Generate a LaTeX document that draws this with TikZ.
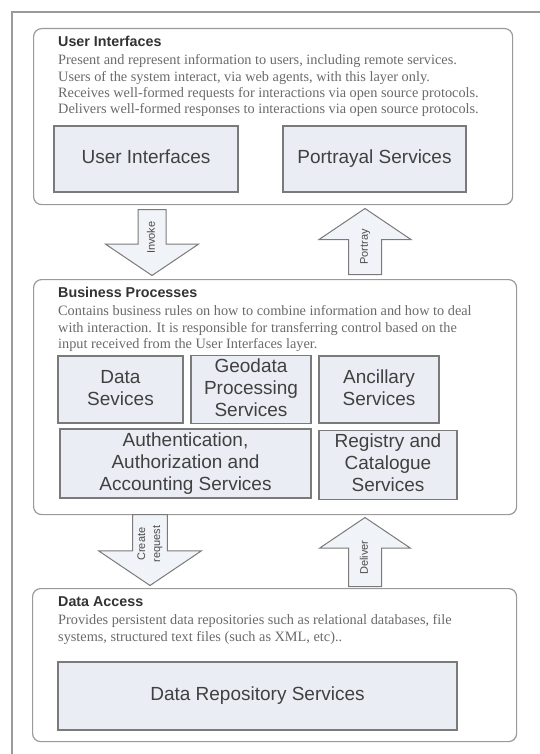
\documentclass[tikz,border=0pt]{standalone}
\usepackage{fontspec}
\setmainfont{Liberation Serif}
\setsansfont{Liberation Sans}
\usetikzlibrary{shapes.arrows}

\definecolor{boxfill}{HTML}{EAEEF4}
\definecolor{boxline}{HTML}{7A7A7A}
\definecolor{layerline}{HTML}{9A9A9A}
\definecolor{desctext}{HTML}{6A6A6A}

\begin{document}
\begin{tikzpicture}[x=1pt,y=-1pt,
  layer/.style={draw=layerline,line width=1.2pt,rounded corners=8pt,fill=white,anchor=north west},
  service/.style={draw=boxline,line width=1.2pt,fill=boxfill,text=black!75,align=center,text depth=4pt,font=\sffamily\fontsize{19}{22}\selectfont},
  layertitle/.style={anchor=base west,inner sep=0pt,text=black!80,font=\sffamily\bfseries\fontsize{14.3}{16}\selectfont},
  layertext/.style={anchor=north west,inner sep=0pt,align=left,text=desctext,font=\fontsize{14.3}{16.3}\selectfont},
  blockarrow/.style={single arrow,draw=boxline,line width=1pt,fill=boxfill!70,single arrow tip angle=112,
    rotate=90,anchor=tail,inner xsep=2pt,text=black!70,font=\sffamily\fontsize{11}{15}\selectfont},
  downarrow/.style={blockarrow,shape border rotate=180}]
  \useasboundingbox (0,0) rectangle (540,754);
  % outer frame
  \draw[layerline,line width=1.3pt] (12,760) -- (12,12) -- (550,12);

  % user interfaces layer
  \node[layer,minimum width=479pt,minimum height=176pt] (uilayer) at (33,28) {};
  \node[layertitle] (uititle) at (58,47) {User Interfaces};
  \node[layertext] (uitext) at (58,54.5) {Present and represent information to users, including remote services.\\
    Users of the system interact, via web agents, with this layer only.\\
    Receives well-formed requests for interactions via open source protocols.\\
    Delivers well-formed responses to interactions via open source protocols.};
  \node[service,minimum width=184pt,minimum height=66pt] (userif) at (146,159) {User Interfaces};
  \node[service,minimum width=183pt,minimum height=66pt] (portrayal) at (374.5,159) {Portrayal Services};

  % business processes layer
  \node[layer,minimum width=483pt,minimum height=235pt] (bplayer) at (33,279) {};
  \node[layertitle] (bptitle) at (58,297) {Business Processes};
  \node[layertext] (bptext) at (58,305.5) {Contains business rules on how to combine information and how to deal\\
    with interaction. It is responsible for transferring control based on the\\
    input received from the User Interfaces layer.};
  \node[service,minimum width=125pt,minimum height=67pt] (datasvc) at (120.5,389.5) {Data\\Sevices};
  \node[service,minimum width=120pt,minimum height=67pt] (geodata) at (251,389.5) {Geodata\\Processing\\Services};
  \node[service,minimum width=120pt,minimum height=67pt] (ancillary) at (379,389.5) {Ancillary\\Services};
  \node[service,minimum width=251pt,minimum height=69pt] (aaa) at (185.5,463.5) {Authentication,\\Authorization and\\Accounting Services};
  \node[service,minimum width=138pt,minimum height=68pt] (registry) at (388,465) {Registry and\\Catalogue\\Services};

  % data access layer
  \node[layer,minimum width=484pt,minimum height=153pt] (dalayer) at (32,588) {};
  \node[layertitle] (datitle) at (58,606) {Data Access};
  \node[layertext] (datext) at (58,614.5) {Provides persistent data repositories such as relational databases, file\\
    systems, structured text files (such as XML, etc)..};
  \node[service,minimum width=399pt,minimum height=68pt] (repository) at (257.5,696) {Data Repository Services};

  % arrows between the layers
  \node[downarrow,minimum height=66pt,text height=8pt,text depth=2.5pt,inner ysep=8.25pt,single arrow head extend=32.5pt] (invoke) at (152,209) {Invoke};
  \node[blockarrow,minimum height=66pt,text height=8pt,text depth=2.5pt,inner ysep=10.75pt,single arrow head extend=29.5pt] (portray) at (365,275) {Portray};
  \node[downarrow,minimum height=71pt,align=center,inner ysep=4.5pt,single arrow head extend=34pt] (create) at (150,514) {Create\\request};
  \node[blockarrow,minimum height=69pt,text height=8pt,text depth=2.5pt,inner ysep=10.75pt,single arrow head extend=29pt] (deliver) at (365,587) {Deliver};

\end{tikzpicture}
\end{document}
